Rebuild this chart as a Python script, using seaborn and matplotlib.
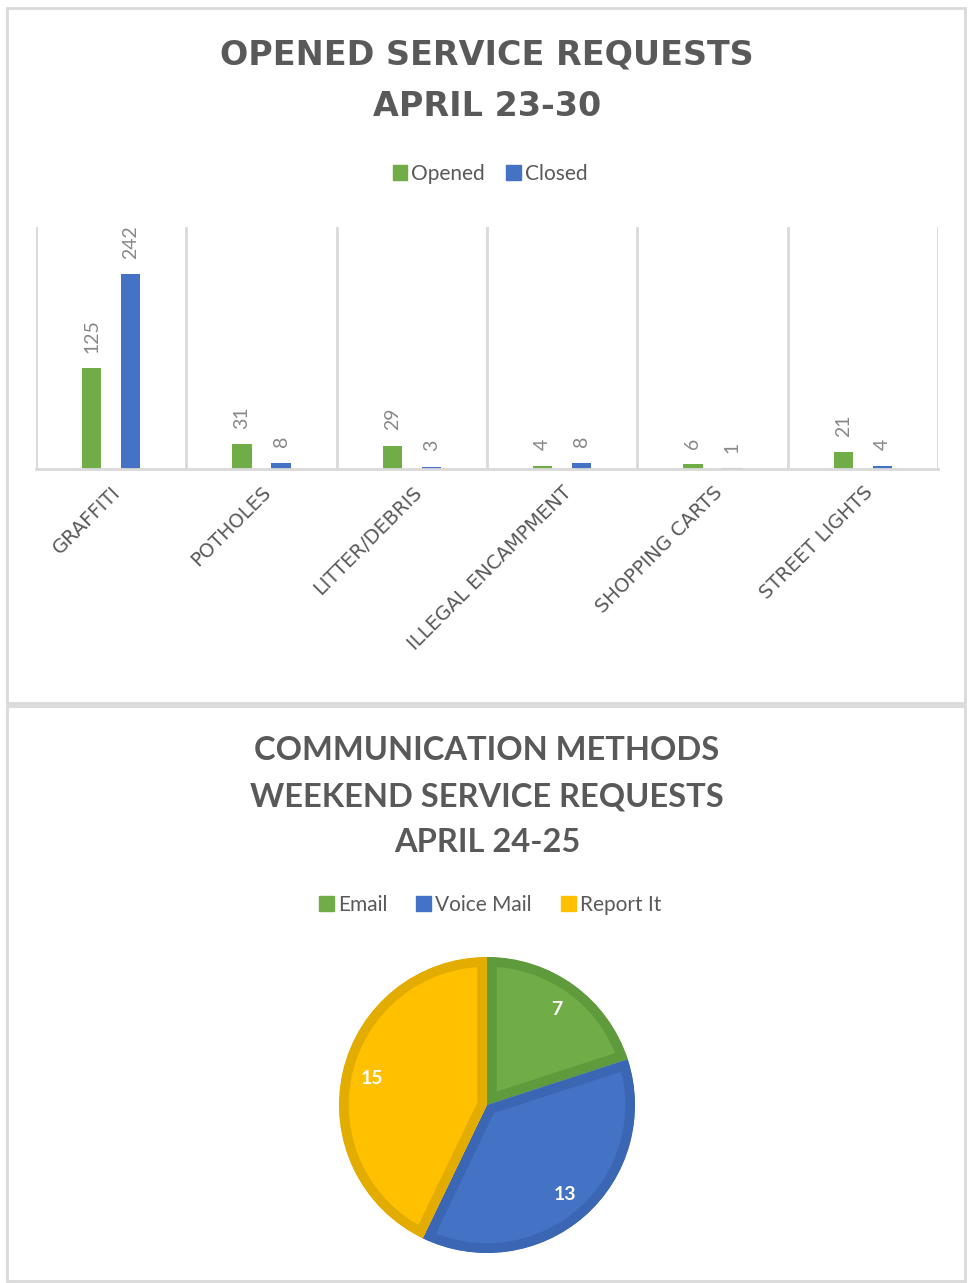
import matplotlib
matplotlib.use("Agg")
import matplotlib.pyplot as plt
import seaborn as sns
import pandas as pd
from matplotlib.patches import Rectangle, Patch

# ---------------- data ----------------
categories = ["GRAFFITI", "POTHOLES", "LITTER/DEBRIS", "ILLEGAL ENCAMPMENT",
              "SHOPPING CARTS", "STREET LIGHTS"]
opened = [125, 31, 29, 4, 6, 21]
closed = [242, 8, 3, 8, 1, 4]
series = ["Opened", "Closed"]

methods = ["Email", "Voice Mail", "Report It"]
method_counts = [7, 13, 15]

# ---------------- style ----------------
sns.set_theme(style="white")
plt.rcParams['font.family'] = ['Lato', 'DejaVu Sans']

GREEN, BLUE, YELLOW = "#70AD47", "#4472C4", "#FFC000"
EDGES = ["#5F9A3C", "#3A66B3", "#E3AC00"]
GRID = "#D9D9D9"
TXT = "#595959"
LBL = "#888888"

W, H = 969, 1283
fig = plt.figure(figsize=(W / 100, H / 100), dpi=100)
fig.patch.set_facecolor("white")


def fx(px):
    return px / W


def fy(py):
    return 1 - py / H


# panel borders
for (x0, y0, x1, y1) in [(7, 8, 965, 703), (7, 706, 965, 1281)]:
    fig.patches.append(Rectangle((fx(x0), fy(y1)), fx(x1) - fx(x0), fy(y0) - fy(y1),
                                 transform=fig.transFigure, fill=False,
                                 edgecolor=GRID, lw=2))

# ---------------- bar chart ----------------
fig.text(fx(487), fy(55), "OPENED SERVICE REQUESTS", ha="center", va="center",
         fontsize=24, fontweight="bold", color=TXT, family=["DejaVu Sans"])
fig.text(fx(487), fy(107), "APRIL 23-30", ha="center", va="center",
         fontsize=24, fontweight="bold", color=TXT, family=["DejaVu Sans"])

ax = fig.add_axes([fx(36), fy(469), fx(938) - fx(36), fy(227) - fy(469)])
df = pd.DataFrame({
    "category": categories * 2,
    "series": [series[0]] * len(categories) + [series[1]] * len(categories),
    "value": opened + closed,
})
sns.barplot(data=df, x="category", y="value", hue="series", hue_order=series,
            palette=[GREEN, BLUE], width=0.52, gap=0.5, saturation=1,
            legend=False, ax=ax, order=categories, linewidth=0)
ax.set_xlim(-0.5, len(categories) - 0.5)
ax.set_ylim(0, 300)
for i in range(len(categories) + 1):
    ax.axvline(i - 0.5, color=GRID, lw=2, zorder=0)
for s in ["top", "right", "left"]:
    ax.spines[s].set_visible(False)
ax.spines["bottom"].set_color(GRID)
ax.spines["bottom"].set_linewidth(2)
ax.set_yticks([])
ax.set_xlabel("")
ax.set_ylabel("")
ax.set_xticks(range(len(categories)))
ax.set_xticklabels(categories, rotation=45, ha="right", va="top",
                   rotation_mode="anchor", color=TXT, fontsize=14,
                   family=["DejaVu Sans"])
ax.tick_params(axis="x", length=0, pad=10)
for cont, vals in zip(ax.containers, [opened, closed]):
    ax.bar_label(cont, labels=[str(v) for v in vals], rotation=90, padding=11,
                 color=LBL, fontsize=14)

fig.legend(handles=[Patch(color=GREEN), Patch(color=BLUE)], labels=series,
           loc="center", bbox_to_anchor=(fx(490), fy(174)), ncol=2, frameon=False,
           handlelength=0.7, handleheight=0.7, handletextpad=0.2,
           columnspacing=1.0, fontsize=15, labelcolor=TXT)

# ---------------- pie chart ----------------
fig.text(fx(487), fy(751), "COMMUNICATION METHODS", ha="center", va="center",
         fontsize=23.5, fontweight="bold", color=TXT)
fig.text(fx(487), fy(797), "WEEKEND SERVICE REQUESTS", ha="center", va="center",
         fontsize=23.5, fontweight="bold", color=TXT)
fig.text(fx(487), fy(843), "APRIL 24-25", ha="center", va="center",
         fontsize=23.5, fontweight="bold", color=TXT)

fig.legend(handles=[Patch(color=GREEN), Patch(color=BLUE), Patch(color=YELLOW)],
           labels=methods, loc="center", bbox_to_anchor=(fx(490), fy(905)),
           ncol=3, frameon=False, handlelength=0.7, handleheight=0.7,
           handletextpad=0.2, columnspacing=1.4, fontsize=15, labelcolor=TXT)

ax2 = fig.add_axes([fx(487 - 150), fy(1105 + 150), 300 / W, 300 / H])
total = sum(method_counts)
wedges, texts, autotexts = ax2.pie(
    method_counts, colors=[GREEN, BLUE, YELLOW], startangle=90,
    counterclock=False, radius=148 / 150,
    autopct=lambda p: f"{round(p * total / 100)}", pctdistance=0.8,
    textprops=dict(color="white", fontsize=14, fontweight="bold"))
for w, ec in zip(wedges, EDGES):
    w.set_edgecolor(ec)
    w.set_linewidth(14)
    w.set_clip_on(True)
    w.set_clip_path(w.get_path(), w.get_transform())
ax2.set_xlim(-1, 1)
ax2.set_ylim(-1, 1)
ax2.set_aspect("equal")
ax2.axis("off")

fig.savefig("out.png", dpi=100, facecolor="white")
